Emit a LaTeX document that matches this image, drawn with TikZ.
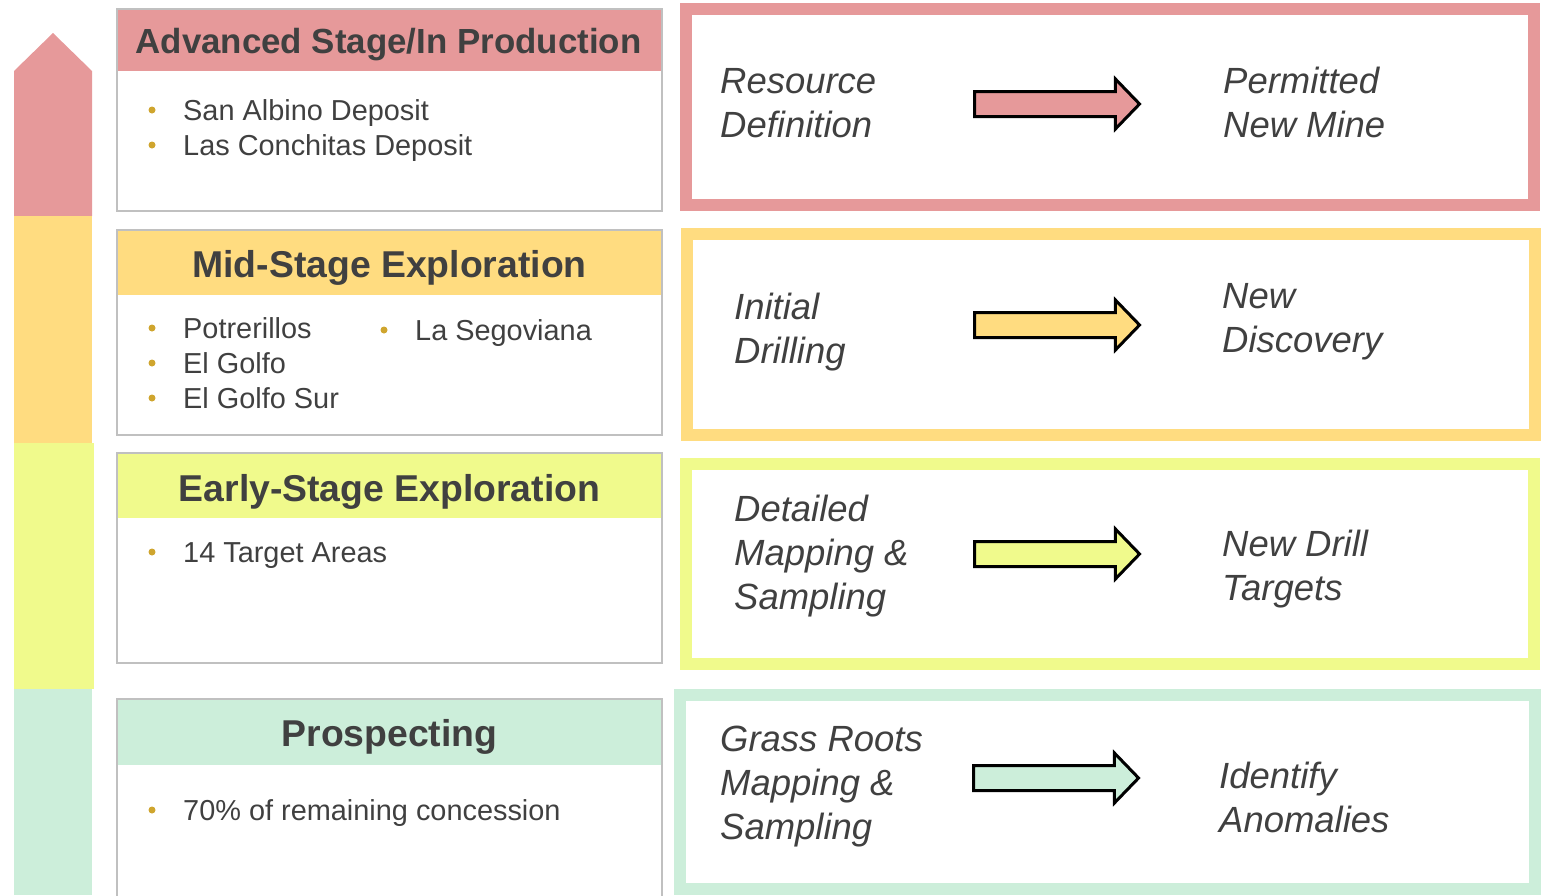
\documentclass[tikz,border=0pt]{standalone}
\usepackage{fontspec}
\setmainfont{Liberation Sans}
\usetikzlibrary{shapes.arrows}
\definecolor{stagered}{HTML}{E6999A}
\definecolor{stageyellow}{HTML}{FFDC80}
\definecolor{stagelime}{HTML}{F0FA8C}
\definecolor{stagemint}{HTML}{CCEEDA}
\definecolor{boxgray}{HTML}{C0C0C0}
\definecolor{inkgray}{HTML}{404040}
\definecolor{dotgold}{HTML}{CFA52E}
\tikzset{
  headtext/.style={text=inkgray, font=\fontsize{37.5}{40}\selectfont\bfseries, anchor=base, inner sep=0},
  itemtext/.style={text=inkgray, font=\fontsize{29}{35}\selectfont, anchor=base west, inner sep=0},
  steptext/.style={text=inkgray, font=\fontsize{36.6}{44}\selectfont\itshape, anchor=base west, align=left, inner sep=0},
  stageframe/.style={line width=12bp},
  stagebox/.style={draw=boxgray, line width=2bp},
  blockarrow/.style={single arrow, draw=black, line width=3bp, inner sep=0,
    text height=22bp, text depth=0bp, minimum height=165bp,
    single arrow head extend=12.5bp, single arrow tip angle=92},
}
\begin{document}
\begin{tikzpicture}[x=1bp,y=-1bp]
\useasboundingbox (0,0) rectangle (1544,895);
%% stage bar
\fill[stagered] (14,216) -- (14,71) -- (53,33) -- (92,71) -- (92,216) -- cycle;
\fill[stageyellow] (14,216) rectangle (92,443);
\fill[stagelime] (14,443) rectangle (94,689);
\fill[stagemint] (14,689) rectangle (92,895);
%
  % Node: advhead
\fill[stagered] (117,9) rectangle (662,71);
\draw[stagebox] (117,9) rectangle (662,211);
\node[headtext, font=\fontsize{35}{40}\selectfont\bfseries] (advhead) at (388.5,53) {Advanced Stage/In Production};
\node[itemtext] (sanalbino) at (183,120) {San Albino Deposit};
\node[itemtext] (conchitas) at (183,155) {Las Conchitas Deposit};
  % Node: midhead
\fill[stageyellow] (117,230) rectangle (662,295);
\draw[stagebox] (117,230) rectangle (662,435);
\node[headtext] (midhead) at (389.5,277) {Mid-Stage Exploration};
\node[itemtext] (potrerillos) at (183,338) {Potrerillos};
\node[itemtext] (golfo) at (183,373) {El Golfo};
\node[itemtext] (golfosur) at (183,408) {El Golfo Sur};
\node[itemtext] (segoviana) at (415,340) {La Segoviana};
  % Node: earlyhead
\fill[stagelime] (117,453) rectangle (662,518);
\draw[stagebox] (117,453) rectangle (662,663);
\node[headtext] (earlyhead) at (389.5,501) {Early-Stage Exploration};
\node[itemtext] (targets) at (183,562) {14 Target Areas};
  % Node: prosphead
\fill[stagemint] (117,699) rectangle (662,765);
\draw[stagebox] (117,898) -- (117,699) -- (662,699) -- (662,898);
\node[headtext] (prosphead) at (389.5,746) {Prospecting};
\node[itemtext] (concession) at (183,820) {70\% of remaining concession};
%% bullets
\foreach \n in {sanalbino,conchitas,potrerillos,golfo,golfosur,segoviana,targets,concession}
  \fill[dotgold] ([xshift=-31bp,yshift=10bp]\n.base west) circle (3.5bp);
%
%% stage frames
\draw[stageframe, stagered] (686,9) rectangle (1534,205);
\draw[stageframe, stageyellow] (687,234) rectangle (1535,435);
\draw[stageframe, stagelime] (686,464) rectangle (1534,664);
\draw[stageframe, stagemint] (680,695) rectangle (1535,889);
%
  % Node: resource / permitted
\node[steptext] (resource) at (720,137) {Resource\\Definition};
\node[steptext] (permitted) at (1223,137) {Permitted\\New Mine};
  % Node: initial / discovery
\node[steptext] (initial) at (734,363) {Initial\\Drilling};
\node[steptext] (discovery) at (1222,352) {New\\Discovery};
  % Node: detailed / drilltargets
\node[steptext] (detailed) at (734,609) {Detailed\\Mapping \&\\Sampling};
\node[steptext] (drilltargets) at (1222,600) {New Drill\\Targets};
  % Node: grassroots / anomalies
\node[steptext] (grassroots) at (720,839) {Grass Roots\\Mapping \&\\Sampling};
\node[steptext] (anomalies) at (1219,832) {Identify\\Anomalies};
%
  % Edge: resource -> permitted
\node[blockarrow, fill=stagered] (arrowadv) at (1051,104) {};
  % Edge: initial -> discovery
\node[blockarrow, fill=stageyellow] (arrowmid) at (1051,325) {};
  % Edge: detailed -> drilltargets
\node[blockarrow, fill=stagelime] (arrowearly) at (1051,554) {};
  % Edge: grassroots -> anomalies
\node[blockarrow, fill=stagemint] (arrowprosp) at (1050,778) {};
%
\end{tikzpicture}
\end{document}
